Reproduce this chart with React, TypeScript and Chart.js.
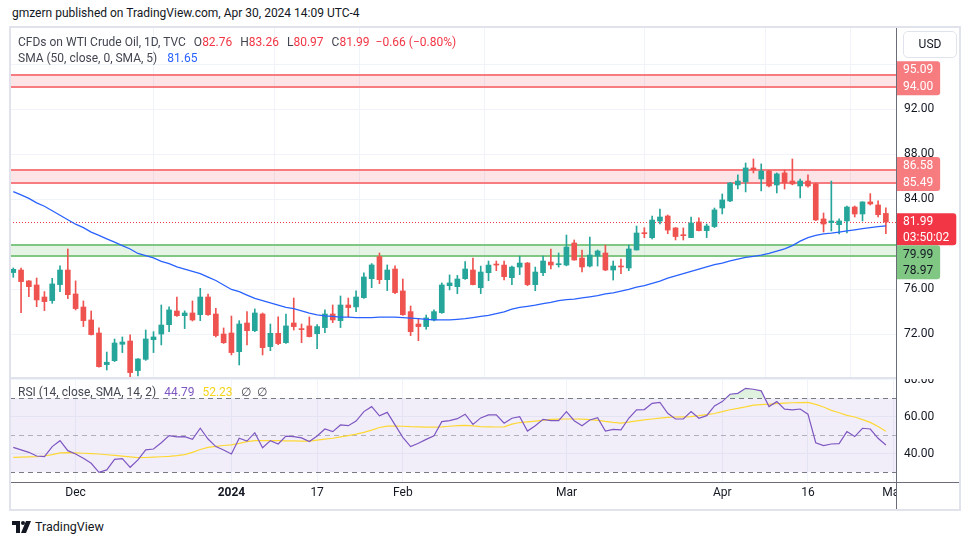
import React, { useEffect, useRef } from 'react';
import { Chart, registerables } from 'chart.js';
Chart.register(...registerables);

// ---------------- DATA ----------------
const dates = [
  '2023-11-21','2023-11-22','2023-11-23','2023-11-24','2023-11-27','2023-11-28','2023-11-29','2023-11-30',
  '2023-12-01','2023-12-04','2023-12-05','2023-12-06','2023-12-07','2023-12-08','2023-12-11','2023-12-12','2023-12-13','2023-12-14','2023-12-15',
  '2023-12-18','2023-12-19','2023-12-20','2023-12-21','2023-12-22','2023-12-26','2023-12-27','2023-12-28','2023-12-29',
  '2024-01-02','2024-01-03','2024-01-04','2024-01-05','2024-01-08','2024-01-09','2024-01-10','2024-01-11','2024-01-12',
  '2024-01-15','2024-01-16','2024-01-17','2024-01-18','2024-01-19','2024-01-22','2024-01-23','2024-01-24','2024-01-25','2024-01-26',
  '2024-01-29','2024-01-30','2024-01-31',
  '2024-02-01','2024-02-02','2024-02-05','2024-02-06','2024-02-07','2024-02-08','2024-02-09','2024-02-12','2024-02-13','2024-02-14',
  '2024-02-15','2024-02-16','2024-02-19','2024-02-20','2024-02-21','2024-02-22','2024-02-23','2024-02-26','2024-02-27','2024-02-28','2024-02-29',
  '2024-03-01','2024-03-04','2024-03-05','2024-03-06','2024-03-07','2024-03-08','2024-03-11','2024-03-12','2024-03-13','2024-03-14',
  '2024-03-15','2024-03-18','2024-03-19','2024-03-20','2024-03-21','2024-03-22','2024-03-25','2024-03-26','2024-03-27','2024-03-28',
  '2024-04-01','2024-04-02','2024-04-03','2024-04-04','2024-04-05','2024-04-08','2024-04-09','2024-04-10','2024-04-11','2024-04-12',
  '2024-04-15','2024-04-16','2024-04-17','2024-04-18','2024-04-19','2024-04-22','2024-04-23','2024-04-24','2024-04-25','2024-04-26',
  '2024-04-29','2024-04-30',
];

const opens = [
  77.50,77.73,76.76,76.40,75.33,75.01,76.43,77.73,75.60,74.44,73.29,72.13,69.32,69.67,71.13,71.42,68.79,69.79,71.54,72.04,
  72.87,74.09,73.67,73.91,73.76,75.33,73.82,72.04,72.13,70.47,73.02,72.34,73.82,70.92,72.10,71.27,73.02,72.52,72.76,72.07,
  72.61,73.82,73.23,74.62,74.45,75.27,76.96,78.92,76.87,77.82,75.87,74.03,72.93,72.70,73.29,73.94,76.34,76.25,76.96,77.73,
  76.16,77.49,78.26,78.17,77.05,77.99,78.35,76.43,77.49,78.44,78.20,78.17,80.13,78.80,78.08,78.97,79.24,77.73,78.08,77.91,
  79.51,81.02,80.60,82.08,82.53,81.47,80.84,80.61,82.00,81.23,81.59,83.24,83.87,85.29,85.56,86.80,85.82,86.53,85.29,86.36,
  85.64,85.20,85.64,85.38,82.27,81.94,81.76,82.09,83.33,82.71,83.78,83.51,82.76,
];
const highs = [
  77.91,77.91,76.80,77.02,75.81,76.99,78.09,79.60,76.76,74.98,74.09,72.58,70.44,71.60,71.78,71.96,69.85,72.40,72.25,74.62,
  74.45,75.33,74.10,74.98,76.10,75.60,74.33,72.58,73.64,73.23,74.03,74.27,73.91,72.93,73.56,73.82,75.24,72.93,73.56,72.87,
  74.18,74.62,75.42,75.24,75.87,77.47,78.30,79.24,78.18,78.09,76.93,74.53,73.35,73.73,74.18,76.58,77.29,77.25,78.47,78.80,
  78.08,78.53,78.53,78.53,78.08,78.97,78.40,77.99,78.97,79.60,79.24,80.84,80.40,79.51,80.66,79.51,79.95,78.53,78.71,79.95,
  81.64,81.49,82.53,83.15,82.62,81.50,81.47,82.44,82.36,81.82,83.24,84.49,85.50,86.18,87.24,87.60,87.16,86.60,86.36,86.62,
  87.60,85.82,86.18,85.47,82.80,85.64,82.27,83.42,83.42,83.80,84.52,83.87,83.26,
];
const lows = [
  77.08,73.94,75.36,74.47,74.12,74.77,75.81,75.19,74.18,72.70,71.95,69.10,68.84,69.59,70.39,68.25,68.31,69.70,70.39,71.07,
  72.25,73.60,72.52,73.20,73.23,73.70,71.78,71.20,70.18,69.29,71.07,72.25,70.18,70.56,71.10,71.20,72.40,71.27,71.78,70.74,
  72.16,73.05,72.61,73.56,74.03,75.20,76.16,76.52,75.90,75.63,73.70,71.90,71.45,72.46,73.20,73.88,75.96,75.63,76.90,76.40,
  75.63,76.78,77.67,76.84,76.43,77.32,76.34,75.89,77.23,77.82,77.99,78.10,78.60,77.55,78.00,78.08,77.67,76.84,77.40,77.67,
  79.50,80.60,80.50,81.82,80.96,80.40,80.40,80.60,81.20,80.61,81.50,82.71,83.80,84.93,84.67,86.36,84.76,85.11,84.58,84.93,
  85.30,84.13,85.10,82.12,81.11,81.20,80.93,81.02,82.44,82.09,83.51,82.44,80.97,
];
const closes = [
  77.79,76.70,76.25,75.07,74.92,76.49,77.73,75.54,74.30,73.23,71.99,69.14,69.53,71.24,71.33,68.61,69.82,71.60,71.78,72.84,
  74.18,73.67,73.91,73.29,75.33,73.76,71.90,71.27,70.39,72.93,72.34,73.91,70.83,72.10,71.19,72.76,72.70,72.43,71.81,72.70,
  73.82,73.29,74.62,74.39,75.33,77.11,78.18,76.87,77.73,75.72,73.76,72.25,72.70,73.47,74.03,76.40,76.58,76.93,77.82,76.43,
  77.55,78.17,78.17,77.14,77.99,78.35,76.43,77.55,78.53,78.17,78.26,79.77,78.62,78.00,79.06,79.42,77.73,78.08,78.00,79.60,
  81.02,80.96,82.17,82.44,81.28,80.70,80.78,81.91,81.23,81.64,83.07,83.96,85.47,85.64,86.80,86.62,86.53,85.20,86.27,85.47,
  85.38,85.64,85.20,82.18,81.82,82.09,82.09,83.33,82.71,83.78,83.60,82.65,81.99,
];
const sma50 = [
  84.7,84.4,84.1,83.7,83.4,83.0,82.6,82.2,81.8,81.5,81.1,80.8,80.5,80.2,79.9,79.6,79.2,79.0,78.8,78.5,
  78.3,78.0,77.8,77.6,77.4,77.1,76.8,76.4,76.0,75.8,75.5,75.2,75.0,74.8,74.6,74.4,74.3,74.1,73.9,73.75,
  73.65,73.6,73.55,73.55,73.5,73.5,73.5,73.55,73.55,73.55,73.5,73.45,73.4,73.35,73.3,73.3,73.3,73.35,73.4,73.5,
  73.6,73.7,73.85,74.0,74.25,74.4,74.5,74.6,74.75,74.85,75.0,75.1,75.15,75.25,75.35,75.45,75.6,75.7,75.85,76.0,
  76.2,76.35,76.55,76.75,77.0,77.2,77.4,77.6,77.8,78.0,78.2,78.35,78.55,78.7,78.85,78.95,79.05,79.2,79.4,79.6,
  79.9,80.3,80.6,80.8,80.95,81.0,81.1,81.2,81.3,81.4,81.5,81.58,81.65,
];
const rsi = [
  43.5,42.1,40.8,38.8,38.5,43.9,47.1,41.7,39.9,37.6,34.9,30.0,31.3,37.0,37.4,32.7,36.7,42.1,42.6,46.0,
  49.8,49.1,49.3,47.8,53.8,48.0,43.9,42.1,39.9,48.4,46.9,51.4,43.3,47.1,45.3,49.6,49.3,48.6,46.6,49.6,
  53.4,52.0,55.6,55.2,57.7,62.8,65.5,60.5,62.4,55.6,48.9,43.9,45.7,47.8,49.8,57.4,57.9,59.0,61.4,55.9,
  59.4,61.0,61.0,56.5,59.2,60.1,52.3,55.2,58.6,57.9,57.9,62.8,57.9,55.2,58.3,59.5,52.3,53.2,52.9,59.2,
  63.7,63.9,67.3,67.8,61.9,58.8,58.8,62.8,59.2,60.6,65.9,68.2,72.2,72.7,75.4,74.9,74.0,65.5,68.2,64.1,
  63.7,64.2,61.4,46.0,44.4,45.3,45.5,52.0,49.3,53.8,53.4,48.4,44.79,
];
const rsiSma = [
  38.1,38.2,38.3,38.4,38.8,39.6,40.5,40.6,40.5,40.3,40.1,39.9,39.5,39.1,38.7,38.3,37.9,38.0,38.2,38.4,
  38.6,39.0,39.6,40.8,42.3,43.5,44.0,44.5,44.8,45.6,46.6,47.1,47.1,47.1,47.1,47.0,47.0,46.9,46.9,47.4,
  47.9,48.4,49.1,49.8,50.6,51.6,52.8,54.2,55.0,55.0,54.9,54.7,54.6,54.4,54.4,54.6,54.9,55.2,55.4,55.1,
  54.7,54.6,54.5,54.6,56.0,56.9,57.3,57.7,58.1,58.6,58.7,58.8,58.8,58.7,58.5,58.1,57.5,57.0,56.6,57.1,
  57.8,58.3,58.8,59.3,59.7,59.9,60.0,60.1,60.6,61.2,61.8,62.8,63.8,64.6,65.4,66.3,66.6,66.8,67.1,67.4,
  67.6,67.7,67.8,66.7,65.3,63.5,62.2,60.8,59.9,58.5,57.0,54.8,52.23,
];

const priceTicks = [72, 76, 80, 84, 88, 92, 96];
const rsiTicks = [40, 60, 80];
const rsiLevels = [70, 50, 30];
const timeTickDates = ['2023-12-01','2024-01-02','2024-01-17','2024-02-01','2024-03-01','2024-04-01','2024-04-16','2024-05-01'];
const timeTickLabels = ['Dec','2024','17','Feb','Mar','Apr','16','May'];
const resistanceBands = [[94.00, 95.09], [85.49, 86.58]];
const supportBands = [[78.97, 79.99]];
const countdown = '03:50:02';

// ---------------- STYLE ----------------
const FONT = "Roboto, 'Noto Sans', 'Liberation Sans', Arial, sans-serif";
const UP = '#26a69a';
const DOWN = '#ef5350';
const GRID = '#f0f3fa';
const TEXT = '#131722';

const N = dates.length;
const X_MIN = -0.42;
const X_MAX = 113.3;
const timeTickIdx = timeTickDates.map((d) => {
  const k = dates.indexOf(d);
  return k === -1 ? N : k;
});

function App() {
  const priceRef = useRef<HTMLCanvasElement | null>(null);
  const rsiRef = useRef<HTMLCanvasElement | null>(null);

  useEffect(() => {
    const last = N - 1;
    const fmt = (v: number) => v.toFixed(2);
    const labelValues = [
      ...resistanceBands.flat(),
      ...supportBands.flat(),
      closes[last],
    ];

    const priceOverlay = {
      id: 'priceOverlay',
      beforeDatasetsDraw(chart: any) {
        const { ctx, chartArea: a, scales } = chart;
        const y = scales.y;
        ctx.save();
        const band = (lo: number, hi: number, fill: string, line: string) => {
          const y1 = Math.round(y.getPixelForValue(hi));
          const y2 = Math.round(y.getPixelForValue(lo));
          ctx.fillStyle = fill;
          ctx.fillRect(a.left, y1, a.right - a.left, y2 - y1);
          ctx.strokeStyle = line;
          ctx.lineWidth = 2;
          ctx.beginPath();
          ctx.moveTo(a.left, y1); ctx.lineTo(a.right, y1);
          ctx.moveTo(a.left, y2); ctx.lineTo(a.right, y2);
          ctx.stroke();
        };
        resistanceBands.forEach(([lo, hi]) => band(lo, hi, 'rgba(242,54,69,0.13)', '#f77c80'));
        supportBands.forEach(([lo, hi]) => band(lo, hi, 'rgba(76,175,80,0.14)', '#81c784'));
        const yc = Math.round(y.getPixelForValue(closes[last])) + 0.5;
        ctx.strokeStyle = '#f23645';
        ctx.lineWidth = 1;
        ctx.setLineDash([1, 2]);
        ctx.beginPath();
        ctx.moveTo(a.left, yc); ctx.lineTo(a.right, yc);
        ctx.stroke();
        ctx.restore();
      },
      afterDraw(chart: any) {
        const { ctx, chartArea: a, scales } = chart;
        const y = scales.y;
        const H = 16.5;
        const groups = [
          ...resistanceBands.map(([lo, hi]) => ({ texts: [fmt(hi), fmt(lo)], anchorVal: lo, anchor: 'last', bg: '#f77c80', fg: '#ffffff', h: 16.5 })),
          { texts: [fmt(closes[last]), countdown], anchorVal: closes[last], anchor: 'first', bg: '#f23645', fg: '#ffffff', h: 15.5 },
          ...supportBands.map(([lo, hi]) => ({ texts: [fmt(hi), fmt(lo)], anchorVal: hi, anchor: 'first', bg: '#81c784', fg: TEXT, h: 16.5 })),
        ];
        ctx.save();
        ctx.font = `12px ${FONT}`;
        let prevBottom = -Infinity;
        groups.forEach((g) => {
          const hh = g.h;
          const py = y.getPixelForValue(g.anchorVal);
          let top = g.anchor === 'last' ? py - (g.texts.length - 0.5) * hh - 1 : py - hh / 2 - 1;
          if (top < prevBottom) top = prevBottom;
          const h = g.texts.length * hh + 1;
          const w = Math.max(...g.texts.map((t) => ctx.measureText(t).width)) + 14;
          ctx.fillStyle = g.bg;
          ctx.beginPath();
          if ((ctx as any).roundRect) (ctx as any).roundRect(a.right, top, w, h, [0, 3, 3, 0]);
          else ctx.rect(a.right, top, w, h);
          ctx.fill();
          ctx.fillStyle = g.fg;
          ctx.textBaseline = 'middle';
          ctx.textAlign = 'left';
          g.texts.forEach((t, k) => ctx.fillText(t, a.right + 7, top + 1 + hh / 2 + k * hh));
          prevBottom = top + h;
        });
        ctx.restore();
      },
    };

    const rsiOverlay = {
      id: 'rsiOverlay',
      beforeDatasetsDraw(chart: any) {
        const { ctx, chartArea: a, scales } = chart;
        const y = scales.y;
        ctx.save();
        const yTop = y.getPixelForValue(Math.max(...rsiLevels));
        const yBot = y.getPixelForValue(Math.min(...rsiLevels));
        ctx.fillStyle = 'rgba(126,87,194,0.1)';
        ctx.fillRect(a.left, yTop, a.right - a.left, yBot - yTop);
        rsiLevels.forEach((lv, k) => {
          const yy = Math.round(y.getPixelForValue(lv)) + 0.5;
          ctx.strokeStyle = k === 1 ? 'rgba(120,123,134,0.55)' : '#787b86';
          ctx.lineWidth = 1;
          ctx.setLineDash([5, 4]);
          ctx.beginPath();
          ctx.moveTo(a.left, yy); ctx.lineTo(a.right, yy);
          ctx.stroke();
        });
        ctx.restore();
      },
    };

    const xCommon = {
      type: 'linear',
      min: X_MIN,
      max: X_MAX,
      offset: false,
      afterBuildTicks: (s: any) => { s.ticks = timeTickIdx.map((v) => ({ value: v })); },
    };

    const price = new Chart(priceRef.current as HTMLCanvasElement, {
      type: 'bar',
      data: {
        datasets: [
          {
            type: 'line',
            data: sma50.map((v, i) => ({ x: i, y: v })),
            borderColor: '#2962ff',
            borderWidth: 1.3,
            pointRadius: 0,
            fill: false,
            order: 1,
          } as any,
          {
            data: lows.map((l, i) => ({ x: i, y: [l, highs[i]] })),
            backgroundColor: closes.map((c, i) => (c >= opens[i] ? UP : DOWN)),
            barThickness: 1,
            grouped: false,
            order: 3,
          } as any,
          {
            data: opens.map((o, i) => ({ x: i, y: [Math.min(o, closes[i]), Math.max(o, closes[i])] })),
            backgroundColor: closes.map((c, i) => (c >= opens[i] ? UP : DOWN)),
            barThickness: 5,
            minBarLength: 1,
            grouped: false,
            order: 2,
          } as any,
        ],
      },
      options: {
        responsive: false,
        animation: false,
        events: [],
        layout: { padding: 0 },
        plugins: { legend: { display: false }, tooltip: { enabled: false } },
        scales: {
          x: {
            ...xCommon,
            ticks: { display: false },
            grid: { color: GRID, drawTicks: false },
            border: { display: false },
            afterFit: (s: any) => { s.height = 0; s.paddingLeft = 0; s.paddingRight = 0; },
          },
          y: {
            type: 'linear',
            position: 'right',
            min: 68.22,
            max: 99.24,
            afterBuildTicks: (s: any) => { s.ticks = priceTicks.map((v) => ({ value: v })); },
            afterFit: (s: any) => { s.width = 64; s.paddingTop = 0; s.paddingBottom = 0; },
            ticks: {
              color: TEXT,
              font: { family: FONT, size: 12 },
              padding: 8,
              callback: (v: any) => (labelValues.some((lv) => Math.abs(lv - Number(v)) < 1) ? '' : Number(v).toFixed(2)),
            },
            grid: { color: GRID, drawTicks: false },
            border: { display: false },
          },
        } as any,
      },
      plugins: [priceOverlay],
    } as any);

    const rsiChart = new Chart(rsiRef.current as HTMLCanvasElement, {
      type: 'line',
      data: {
        datasets: [
          {
            data: rsi.map((v, i) => ({ x: i, y: v })),
            borderColor: '#7e57c2',
            borderWidth: 1.2,
            pointRadius: 0,
            fill: { target: { value: 70 }, above: 'rgba(76,175,80,0.18)', below: 'rgba(0,0,0,0)' },
          },
          {
            data: rsiSma.map((v, i) => ({ x: i, y: v })),
            borderColor: '#fdd835',
            borderWidth: 1.2,
            pointRadius: 0,
            fill: false,
          },
        ],
      },
      options: {
        responsive: false,
        animation: false,
        events: [],
        layout: { padding: 0 },
        plugins: { legend: { display: false }, tooltip: { enabled: false } },
        scales: {
          x: {
            ...xCommon,
            position: 'bottom',
            ticks: {
              autoSkip: false,
              maxRotation: 0,
              padding: 4,
              color: TEXT,
              font: (c: any) => ({ family: FONT, size: 12, weight: c.tick && c.tick.value === timeTickIdx[1] ? 'bold' : 'normal' }),
              callback: (v: any) => {
                const k = timeTickIdx.indexOf(v);
                return k === -1 ? '' : timeTickLabels[k];
              },
            },
            grid: { color: GRID, drawTicks: false },
            border: { display: false },
            afterFit: (s: any) => { s.height = 28; s.paddingLeft = 0; s.paddingRight = 0; },
          },
          y: {
            type: 'linear',
            position: 'right',
            min: 24.76,
            max: 80.43,
            afterBuildTicks: (s: any) => { s.ticks = rsiTicks.map((v) => ({ value: v })); },
            afterFit: (s: any) => { s.width = 64; s.paddingTop = 0; s.paddingBottom = 0; },
            ticks: { color: TEXT, font: { family: FONT, size: 12 }, padding: 8, callback: (v: any) => Number(v).toFixed(2) },
            grid: { color: GRID, drawTicks: false },
            border: { display: false },
          },
        } as any,
      },
      plugins: [rsiOverlay],
    } as any);

    return () => {
      price.destroy();
      rsiChart.destroy();
    };
  }, []);

  const last = N - 1;
  const chg = closes[last] - closes[last - 1];
  const pct = (chg / closes[last - 1]) * 100;
  const minus = (v: number) => (v < 0 ? '\u2212' + Math.abs(v).toFixed(2) : '+' + v.toFixed(2));
  const red = '#f23645';
  const lab = { color: '#434651' };

  return (
    <div style={{ position: 'fixed', left: 0, top: 0, width: 970, height: 545, background: '#fff', fontFamily: FONT, overflow: 'hidden', color: TEXT }}>
      <div style={{ position: 'absolute', left: 12, top: 6, fontSize: 12, whiteSpace: 'nowrap', color: TEXT }}>
        gmzern published on TradingView.com, Apr 30, 2024 14:09 UTC-4
      </div>

      <canvas ref={priceRef} width={950} height={349} style={{ position: 'absolute', left: 10, top: 28 }} />
      <canvas ref={rsiRef} width={950} height={131} style={{ position: 'absolute', left: 10, top: 379 }} />

      {/* frame & separators */}
      <div style={{ position: 'absolute', left: 10, top: 377, width: 886, height: 2, background: '#e0e3eb' }} />
      <div style={{ position: 'absolute', left: 897, top: 483, width: 62, height: 26, background: '#fff' }} />
      <div style={{ position: 'absolute', left: 10, top: 482, width: 950, height: 1, background: '#6a6d78' }} />
      <div style={{ position: 'absolute', left: 896, top: 27, width: 1, height: 483, background: '#6a6d78' }} />
      <div style={{ position: 'absolute', left: 9, top: 26, width: 952, height: 485, boxSizing: 'border-box', border: '2px solid #e0e3eb', pointerEvents: 'none' }} />

      {/* legends */}
      <div style={{ position: 'absolute', left: 18, top: 35, fontSize: 12, whiteSpace: 'nowrap', ...lab }}>
        <span>CFDs on WTI Crude Oil, 1D, TVC</span>
        <span style={{ marginLeft: 8 }}>O</span><span style={{ color: red }}>{opens[last].toFixed(2)}</span>
        <span style={{ marginLeft: 8 }}>H</span><span style={{ color: red }}>{highs[last].toFixed(2)}</span>
        <span style={{ marginLeft: 8 }}>L</span><span style={{ color: red }}>{lows[last].toFixed(2)}</span>
        <span style={{ marginLeft: 8 }}>C</span><span style={{ color: red }}>{closes[last].toFixed(2)}</span>
        <span style={{ marginLeft: 6, color: red }}>{minus(chg)} ({minus(pct)}%)</span>
      </div>
      <div style={{ position: 'absolute', left: 18, top: 51, fontSize: 12, whiteSpace: 'nowrap', ...lab }}>
        <span>SMA (50, close, 0, SMA, 5)</span>
        <span style={{ marginLeft: 10, color: '#2962ff' }}>{sma50[last].toFixed(2)}</span>
      </div>
      <div style={{ position: 'absolute', left: 18, top: 385, fontSize: 12, whiteSpace: 'nowrap', ...lab }}>
        <span>RSI (14, close, SMA, 14, 2)</span>
        <span style={{ marginLeft: 8, color: '#7e57c2' }}>{rsi[last].toFixed(2)}</span>
        <span style={{ marginLeft: 8, color: '#f5d418' }}>{rsiSma[last].toFixed(2)}</span>
        <span style={{ marginLeft: 8 }}>∅</span>
        <span style={{ marginLeft: 6 }}>∅</span>
      </div>

      {/* USD button */}
      <div style={{ position: 'absolute', left: 903, top: 31, width: 54, height: 27, boxSizing: 'border-box', border: '1px solid #e0e3eb', borderRadius: 5, fontSize: 12, lineHeight: '25px', textAlign: 'center', color: TEXT }}>USD</div>

      {/* footer logo */}
      <div style={{ position: 'absolute', left: 12, top: 519, display: 'flex', alignItems: 'center', whiteSpace: 'nowrap' }}>
        <svg width="19" height="12" viewBox="0 0 19 12" style={{ marginRight: 4 }}>
          <path d="M0 0 H8 V12 H4 V4 H0 Z" fill="#131722" />
          <circle cx="11" cy="2" r="2" fill="#131722" />
          <path d="M14 0 H19 L14 12 H9 Z" fill="#131722" />
        </svg>
        <span style={{ fontSize: 12.5, color: TEXT }}>TradingView</span>
      </div>
    </div>
  );
}

export default App;
